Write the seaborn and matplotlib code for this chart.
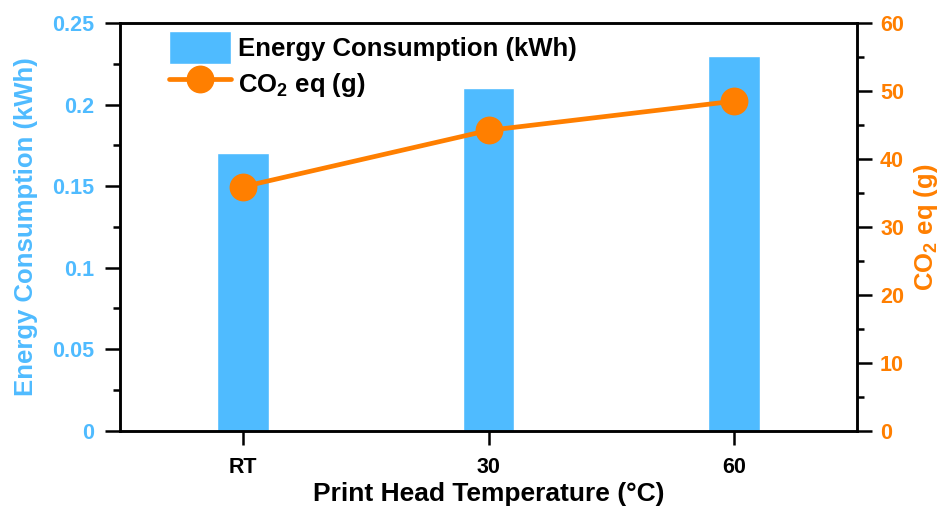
import matplotlib
matplotlib.use("Agg")
import matplotlib.pyplot as plt
import seaborn as sns
import pandas as pd
from matplotlib.ticker import MultipleLocator, FuncFormatter

categories = ["RT", "30", "60"]
energy_kwh = [0.17, 0.21, 0.23]
co2_g = [35.9, 44.2, 48.5]

BLUE = "#4FBBFF"
ORANGE = "#FF7F00"

sns.set_style("ticks")
plt.rcParams["font.family"] = ["Liberation Sans", "DejaVu Sans"]
plt.rcParams["font.weight"] = "bold"
plt.rcParams["text.color"] = "black"
plt.rcParams["axes.labelcolor"] = "black"
plt.rcParams["xtick.color"] = "black"
plt.rcParams["ytick.color"] = "black"
plt.rcParams["mathtext.fontset"] = "custom"
plt.rcParams["mathtext.rm"] = "Liberation Sans:bold"
plt.rcParams["mathtext.bf"] = "Liberation Sans:bold"
plt.rcParams["mathtext.it"] = "Liberation Sans:bold"
plt.rcParams["mathtext.default"] = "rm"

df = pd.DataFrame({"cat": categories, "energy": energy_kwh, "co2": co2_g})

fig = plt.figure(figsize=(9.44, 5.11), dpi=100)
ax = fig.add_axes([0.127, 0.157, 0.781, 0.798])

sns.barplot(data=df, x="cat", y="energy", color=BLUE, saturation=1, width=0.21,
            ax=ax, label="Energy Consumption (kWh)")
ax.set_xlim(-0.5, 2.5)
ax.set_ylim(0, 0.25)
ax.yaxis.set_major_locator(MultipleLocator(0.05))
ax.yaxis.set_minor_locator(MultipleLocator(0.025))
ax.yaxis.set_major_formatter(FuncFormatter(lambda v, p: "%g" % round(v, 3)))

ax2 = ax.twinx()
sns.pointplot(data=df, x="cat", y="co2", color=ORANGE, ax=ax2, markersize=17.5,
              linewidth=3.4, label="CO$_2$ eq (g)")
ax2.set_xlim(-0.5, 2.5)
ax2.set_ylim(0, 60)
ax2.yaxis.set_major_locator(MultipleLocator(10))
ax2.yaxis.set_minor_locator(MultipleLocator(5))

for a in (ax, ax2):
    for s in a.spines.values():
        s.set_visible(True)
        s.set_linewidth(1.8)
        s.set_color("black")

ax.tick_params(axis="y", which="major", direction="out", length=10.5, width=1.8,
               labelsize=15.5, pad=8)
ax.tick_params(axis="y", which="minor", direction="out", length=5, width=1.8)
ax.tick_params(axis="y", labelcolor=BLUE)
ax.tick_params(axis="x", direction="out", length=10, width=1.8, labelsize=15.5, pad=9)
ax2.tick_params(axis="y", which="major", direction="out", length=10.5, width=1.8,
                labelsize=15.5, labelcolor=ORANGE, pad=6)
ax2.tick_params(axis="y", which="minor", direction="out", length=5, width=1.8)
for lab in ax.get_yticklabels() + ax.get_xticklabels() + ax2.get_yticklabels():
    lab.set_fontweight("bold")

ax.set_xlabel("Print Head Temperature (°C)", fontsize=19, fontweight="bold", labelpad=3)
ax.set_ylabel("Energy Consumption (kWh)", fontsize=18.5, fontweight="bold", color=BLUE, labelpad=10)
ax2.set_ylabel("CO$_2$ eq (g)", fontsize=18.5, fontweight="bold", color=ORANGE, labelpad=6)

h1, l1 = ax.get_legend_handles_labels()
h2, l2 = ax2.get_legend_handles_labels()
if ax2.get_legend():
    ax2.get_legend().remove()
if ax.get_legend():
    ax.get_legend().remove()
leg = ax2.legend(h1 + h2, l1 + l2, loc="upper left", bbox_to_anchor=(0.042, 1.025),
                 frameon=False, prop={"size": 18.5, "weight": "bold"},
                 handlelength=2.4, handleheight=1.6, handletextpad=0.3, labelspacing=0.12,
                 borderaxespad=0.3)

fig.savefig("out.png", dpi=100)
